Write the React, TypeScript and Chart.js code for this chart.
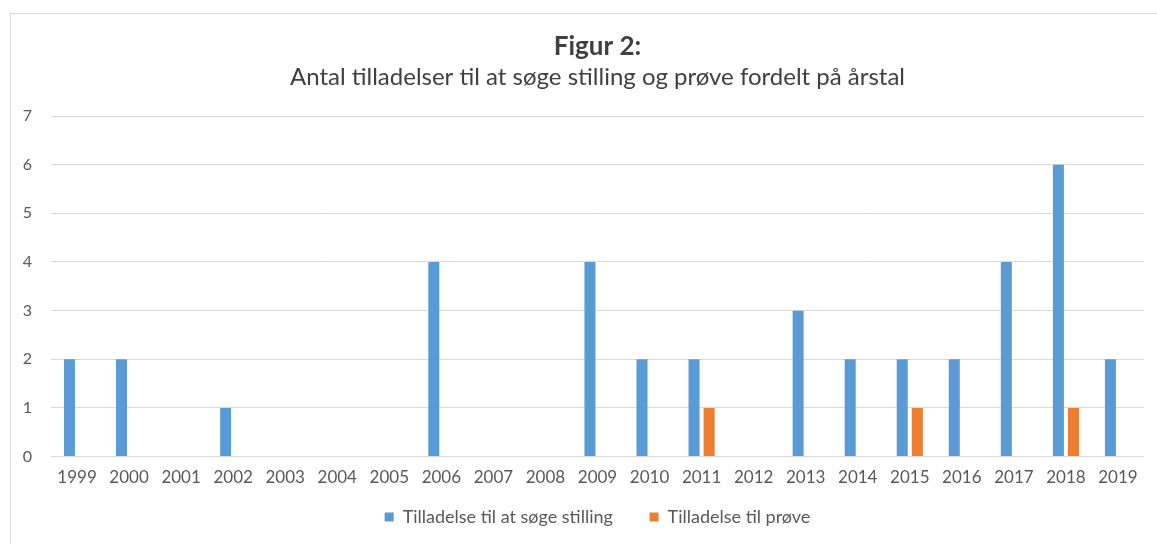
import React, { useEffect, useRef } from "react";
import { Chart, registerables } from "chart.js";

Chart.register(...registerables);

const years = ["1999","2000","2001","2002","2003","2004","2005","2006","2007","2008","2009","2010","2011","2012","2013","2014","2015","2016","2017","2018","2019"];
const stilling = [2, 2, 0, 1, 0, 0, 0, 4, 0, 0, 4, 2, 2, 0, 3, 2, 2, 2, 4, 6, 2];
const proeve = [0, 0, 0, 0, 0, 0, 0, 0, 0, 0, 0, 0, 1, 0, 0, 0, 1, 0, 0, 1, 0];
const seriesNames = ["Tilladelse til at søge stilling", "Tilladelse til prøve"];
const titleText = "Figur 2:";
const subtitleText = "Antal tilladelser til at søge stilling og prøve fordelt på årstal";

const FONT = "Lato, 'Open Sans', sans-serif";

export default function App() {
  const ref = useRef<HTMLCanvasElement | null>(null);
  useEffect(() => {
    document.body.style.margin = "0";
    const chart = new Chart(ref.current!, {
      type: "bar",
      data: {
        labels: years,
        datasets: [
          { label: seriesNames[0], data: stilling, backgroundColor: "#5B9BD5" },
          { label: seriesNames[1], data: proeve, backgroundColor: "#ED7D31" },
        ],
      },
      options: {
        animation: false,
        responsive: false,
        maintainAspectRatio: false,
        datasets: { bar: { categoryPercentage: 0.58, barPercentage: 0.73 } },
        layout: { padding: { left: 0, right: 13, top: 0, bottom: 8 } },
        plugins: {
          title: {
            display: true,
            fullSize: false,
            text: titleText,
            color: "#404040",
            font: { family: FONT, size: 26, weight: "bold" },
            padding: { top: 17, bottom: 0 },
          },
          subtitle: {
            display: true,
            fullSize: false,
            text: subtitleText,
            color: "#404040",
            font: { family: FONT, size: 24 },
            padding: { top: 1, bottom: 24 },
          },
          legend: {
            position: "bottom",
            fullSize: false,
            labels: {
              color: "#595959",
              font: { family: FONT, size: 18 },
              boxWidth: 9,
              boxHeight: 9,
              padding: 9,
              generateLabels: (c: any) => {
                const items = Chart.defaults.plugins.legend.labels.generateLabels(c);
                items.forEach((it: any, i: number) => {
                  if (i < items.length - 1) it.text = it.text + "\u00A0\u00A0\u00A0\u00A0\u00A0\u00A0";
                });
                return items;
              },
            },
          },
          tooltip: { enabled: false },
        },
        scales: {
          x: {
            grid: { display: false, drawTicks: false },
            border: { display: false },
            ticks: { color: "#595959", font: { family: FONT, size: 17 }, padding: 11, maxRotation: 0, autoSkip: false },
          },
          y: {
            min: 0,
            max: 7,
            afterFit: (s: any) => { s.width = 40; },
            grid: { color: "#d9d9d9", drawTicks: false },
            border: { display: false },
            ticks: { stepSize: 1, color: "#595959", font: { family: FONT, size: 16 }, padding: 19 },
          },
        },
      },
    });
    return () => chart.destroy();
  }, []);
  return (
    <div style={{ position: "absolute", left: 10, top: 13, width: 1146, height: 530, border: "1px solid #d9d9d9", borderRight: "none", borderBottom: "none", background: "#fff", overflow: "hidden" }}>
      <canvas ref={ref} width={1146} height={530} style={{ display: "block" }} />
    </div>
  );
}
